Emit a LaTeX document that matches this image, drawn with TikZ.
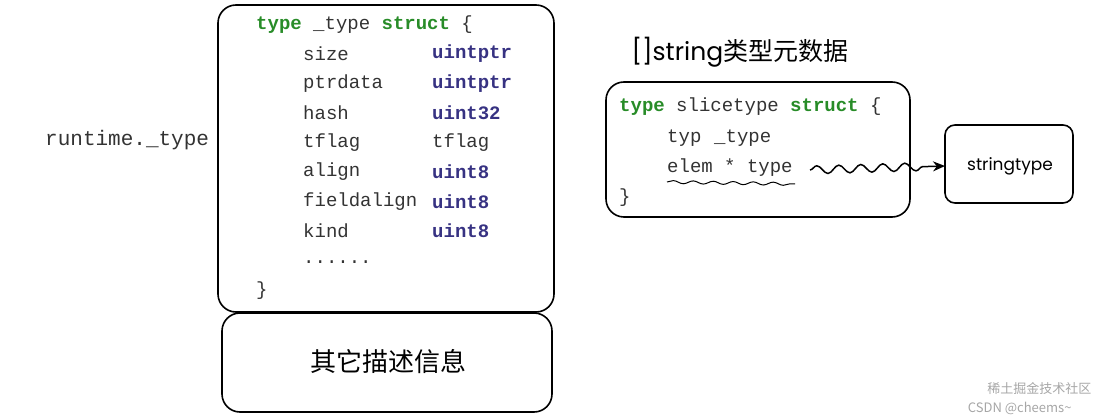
\documentclass[tikz,border=0pt]{standalone}
\usepackage{fontspec}
\setmonofont{Liberation Mono}
\newfontfamily\cjk{Noto Sans CJK SC}
\newfontfamily\hand{Poppins}
\usetikzlibrary{decorations.pathmorphing,arrows.meta}
\definecolor{kw}{RGB}{40,140,40}
\definecolor{ty}{RGB}{55,50,130}
\tikzset{
  box/.style={draw,line width=1.6pt,rounded corners=18pt},
  code/.style={anchor=west,inner sep=0pt,font=\fontsize{19}{21}\ttfamily,text=black!80},
  wm/.style={font=\fontsize{13}{15}\cjk,text=black!35}
}
\newcommand{\K}[1]{\textcolor{kw}{\bfseries #1}}
\newcommand{\T}[1]{\textcolor{ty}{\bfseries #1}}
\begin{document}
\begin{tikzpicture}[x=1pt,y=-1pt]
\useasboundingbox (0,0) rectangle (1105,419);
\draw[box] (218,5) rectangle (554,312);
\draw[box] (222,313) rectangle (552,412);
\node[font=\fontsize{26}{28}\cjk] (other) at (388,362) {其它描述信息};
\node[code,font=\fontsize{21}{23}\ttfamily] (rt) at (45,140) {runtime.\_type};
\node[code] at (256,25) {\K{type} \_type \K{struct} \{};
\node[code] at (303,54) {size};       \node[code] at (432,54) {\T{uintptr}};
\node[code] at (303,84) {ptrdata};    \node[code] at (432,84) {\T{uintptr}};
\node[code] at (303,113) {hash};      \node[code] at (432,113) {\T{uint32}};
\node[code] at (303,143) {tflag};     \node[code] at (432,143) {tflag};
\node[code] at (303,172) {align};     \node[code] at (432,172) {\T{uint8}};
\node[code] at (303,202) {fieldalign};\node[code] at (432,202) {\T{uint8}};
\node[code] at (303,231) {kind};      \node[code] at (432,231) {\T{uint8}};
\node[code] at (303,262) {......};
\node[code] at (256,291) {\}};
\node[anchor=west,font=\fontsize{25}{27}\hand] (title) at (628,52) {[]string\cjk 类型元数据};
\draw[box] (606,82) rectangle (910,217);
\node[code] at (619,107) {\K{type} slicetype \K{struct} \{};
\node[code] at (667,138) {typ};  \node[code] at (714,138) {\_type};
\node[code] (elem) at (667,168) {elem * type};
\node[code] at (619,198) {\}};
\draw[box,rounded corners=10pt] (945,125) rectangle (1073,203);
\node[font=\fontsize{17}{19}\hand] (st) at (1010,166) {stringtype};
\draw[line width=1pt,decorate,decoration={snake,amplitude=1.5pt,segment length=20pt}] (667,182) -- (795,184);
\coordinate (s) at (810,170);
\draw[line width=1.5pt,-{Stealth[length=12pt,width=10pt]},decorate,decoration={snake,amplitude=4pt,segment length=22pt,post length=16pt}] (s) -- (st.west -| 945,168);
\node[wm,anchor=east] at (1095,389) {稀土掘金技术社区};
\node[wm,anchor=east] at (1075,408) {CSDN @cheems\textasciitilde};
\end{tikzpicture}
\end{document}
